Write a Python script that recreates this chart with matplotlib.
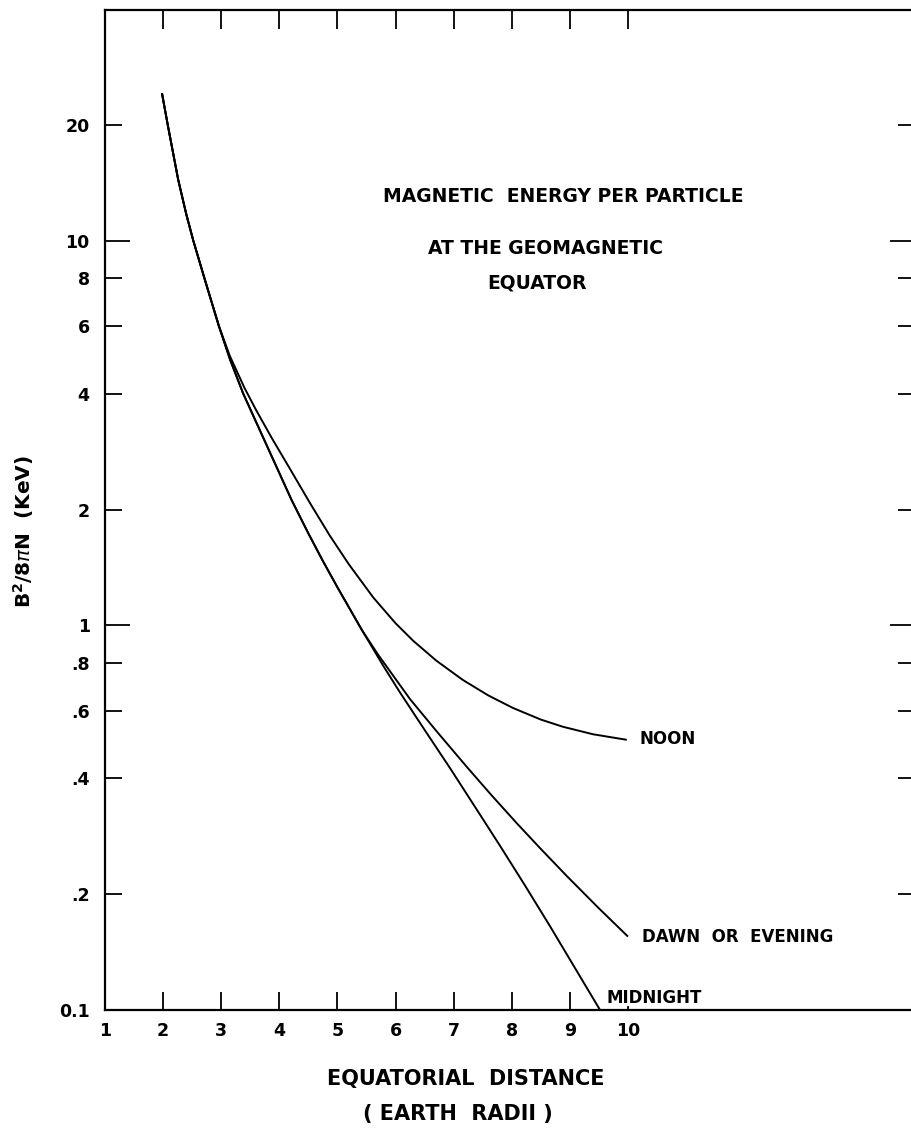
import matplotlib
matplotlib.use("Agg")
import matplotlib.pyplot as plt
from matplotlib.ticker import FixedLocator, FixedFormatter, NullLocator

# ---- data ----
noon_x = [1.98, 2.08, 2.15, 2.26, 2.4, 2.52, 2.71, 2.96, 3.15, 3.4, 3.6, 3.87, 4.2, 4.53,
          4.87, 5.2, 5.62, 6.0, 6.3, 6.7, 7.16, 7.6, 8.02, 8.5, 8.88, 9.4, 9.98]
noon_y = [24.2, 20, 17.6, 14.4, 11.7, 10, 8, 6, 5.01, 4.145, 3.63, 3.07, 2.527, 2.077,
          1.71, 1.439, 1.18, 1.013, 0.913, 0.810, 0.721, 0.657, 0.610, 0.569, 0.545, 0.521, 0.504]

dawn_x = [1.98, 2.08, 2.15, 2.26, 2.4, 2.52, 2.71, 2.96, 3.15, 3.38, 3.8, 4.21, 4.5, 4.75,
          5.0, 5.22, 5.42, 5.7, 6.25, 6.7, 7.23, 7.65, 8.09, 8.5, 8.95, 9.5, 10.0]
dawn_y = [24.2, 20, 17.6, 14.4, 11.7, 10, 8, 6, 4.92, 4.0, 2.9, 2.12, 1.734, 1.47,
          1.256, 1.099, 0.973, 0.839, 0.643, 0.532, 0.428, 0.362, 0.3055, 0.2623, 0.2228,
          0.1838, 0.1552]

midnight_x = [1.98, 2.08, 2.15, 2.26, 2.4, 2.52, 2.71, 2.96, 3.15, 3.38, 3.8, 4.21, 4.5,
              4.75, 5.0, 5.22, 5.42, 5.8, 6.08, 6.5, 6.94, 7.37, 7.8, 8.23, 8.66, 9.1, 9.52]
midnight_y = [24.2, 20, 17.6, 14.4, 11.7, 10, 8, 6, 4.92, 4.0, 2.9, 2.12, 1.734,
              1.47, 1.256, 1.099, 0.973, 0.78, 0.668, 0.535, 0.425, 0.337, 0.267, 0.2105,
              0.165, 0.1277, 0.1]

x_ticks = [1, 2, 3, 4, 5, 6, 7, 8, 9, 10]
x_labels = ["1", "2", "3", "4", "5", "6", "7", "8", "9", "10"]
y_ticks = [0.1, 0.2, 0.4, 0.6, 0.8, 1, 2, 4, 6, 8, 10, 20]
y_labels = ["0.1", ".2", ".4", ".6", ".8", "1", "2", "4", "6", "8", "10", "20"]

W, H = 912, 1129
fig = plt.figure(figsize=(W / 100, H / 100), dpi=100)

def fx(px):
    return px / W

def fy(py):
    return 1 - py / H

left, right, top, bottom = 105, 915, 10, 1010
ax = fig.add_axes([fx(left), fy(bottom), fx(right) - fx(left), fy(top) - fy(bottom)])
ax.set_yscale("log")
ax.set_xlim(1, 14.94)
ax.set_ylim(0.1, 39.8)

lw = 1.4
for xs, ys in [(noon_x, noon_y), (dawn_x, dawn_y), (midnight_x, midnight_y)]:
    ax.plot(xs, ys, color="black", lw=lw, solid_capstyle="butt", solid_joinstyle="round")

for s in ax.spines.values():
    s.set_linewidth(1.6)

# y ticks
ax.yaxis.set_major_locator(FixedLocator(y_ticks))
ax.yaxis.set_major_formatter(FixedFormatter(y_labels))
ax.yaxis.set_minor_locator(NullLocator())
ax.tick_params(axis="y", which="major", direction="in", left=True, right=True,
               length=12, width=1.3, pad=11, labelsize=12.5)
for t, v in zip(ax.yaxis.get_major_ticks(), y_ticks):
    if v in (1, 10):
        t.tick1line.set_markersize(18)
        t.tick2line.set_markersize(18)
    if v == 0.1:
        t.tick1line.set_markersize(0)
        t.tick2line.set_markersize(0)

# x ticks
ax.xaxis.set_major_locator(FixedLocator(x_ticks))
ax.xaxis.set_major_formatter(FixedFormatter(x_labels))
ax.xaxis.set_minor_locator(NullLocator())
ax.tick_params(axis="x", which="major", direction="in", bottom=True, top=True,
               length=13, width=1.3, pad=9, labelsize=12.5)
for t, v in zip(ax.xaxis.get_major_ticks(), x_ticks):
    t.tick2line.set_markersize(14)
    if v == 1:
        t.tick1line.set_markersize(0)
        t.tick2line.set_markersize(0)
    if v == 10:
        t.tick1line.set_markersize(3)

for lab in ax.get_xticklabels() + ax.get_yticklabels():
    lab.set_fontweight("bold")

# titles / annotations
tkw = dict(fontsize=13.5, fontweight="bold", ha="center", va="center")
fig.text(fx(563), fy(197), "MAGNETIC  ENERGY PER PARTICLE", **tkw)
fig.text(fx(546), fy(249), "AT THE GEOMAGNETIC", **tkw)
fig.text(fx(537), fy(283), "EQUATOR", **tkw)

ckw = dict(fontsize=12, fontweight="bold", ha="left", va="center")
fig.text(fx(640), fy(739), "NOON", **ckw)
fig.text(fx(642), fy(937), "DAWN  OR  EVENING", **ckw)
fig.text(fx(607), fy(998), "MIDNIGHT", **ckw)

fig.text(fx(466), fy(1079), "EQUATORIAL  DISTANCE", fontsize=15, fontweight="bold",
         ha="center", va="center")
fig.text(fx(458), fy(1114), "( EARTH  RADII )", fontsize=15, fontweight="bold",
         ha="center", va="center")

fig.text(fx(24), fy(532), r"B$^{\mathbf{2}}$/8$\pi$N  (KeV)", rotation=90, fontsize=14.5,
         fontweight="bold", ha="center", va="center")

fig.savefig("out.png", dpi=100)
